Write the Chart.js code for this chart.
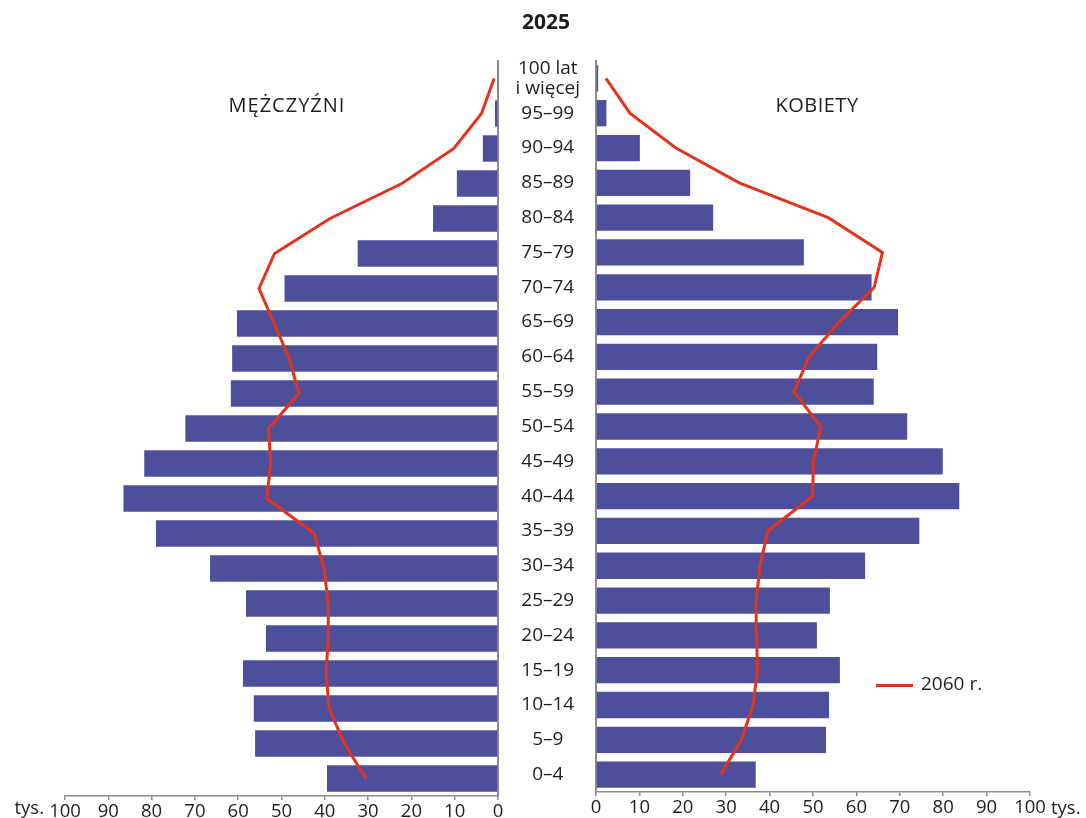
<!DOCTYPE html>
<html lang="pl">
<head>
<meta charset="utf-8">
<script src="https://cdn.jsdelivr.net/npm/chart.js@4.4.1/dist/chart.umd.min.js"></script>
<style>
html,body{margin:0;padding:0;background:#fff;}
#wrap{position:relative;width:1086px;height:818px;overflow:hidden;font-family:"Open Sans",sans-serif;color:#1e1e1e;}
.box{position:absolute;top:0;height:818px;}
#leftBox{left:0;width:510px;}
#rightBox{left:498px;width:588px;}
.txt{position:absolute;white-space:nowrap;}
#title{left:546px;top:11px;font-size:21px;line-height:21px;font-weight:700;transform:translateX(-50%);}
#men{left:287px;top:95px;font-size:20px;line-height:20px;letter-spacing:1px;transform:translateX(-50%);}
#women{left:817px;top:95px;font-size:20px;line-height:20px;letter-spacing:0.5px;transform:translateX(-50%);}
#tysL{left:44px;top:798px;font-size:18.5px;line-height:18px;transform:translateX(-100%);}
#tysR{left:1051px;top:798px;font-size:18.5px;line-height:18px;}
#legLine{left:876px;top:684px;width:37px;height:3px;background:#e2341d;}
#legText{left:921px;top:674px;font-size:19px;line-height:19px;}
</style>
</head>
<body>
<div id="wrap">
  <div class="box" id="leftBox"><canvas id="cLeft"></canvas></div>
  <div class="box" id="rightBox"><canvas id="cRight"></canvas></div>
  <div class="txt" id="title">2025</div>
  <div class="txt" id="men">MĘŻCZYŹNI</div>
  <div class="txt" id="women">KOBIETY</div>
  <div class="txt" id="tysL">tys.</div>
  <div class="txt" id="tysR">tys.</div>
  <div class="txt" id="legLine"></div>
  <div class="txt" id="legText">2060 r.</div>
</div>
<script>
// Age groups (ascending; drawn bottom to top)
const ageGroups = ['0–4','5–9','10–14','15–19','20–24','25–29','30–34','35–39','40–44','45–49',
  '50–54','55–59','60–64','65–69','70–74','75–79','80–84','85–89','90–94','95–99',['100 lat','i więcej']];
// Thousands of persons, 2025
const men2025   = [39.5,56.1,56.4,58.9,53.6,58.2,66.5,79.0,86.5,81.7,72.2,61.7,61.4,60.3,49.3,32.4,15.0,9.5,3.5,0.7,0.1];
const women2025 = [36.8,53.0,53.7,56.2,50.9,53.9,62.0,74.5,83.7,79.9,71.7,64.0,64.8,69.6,63.5,47.9,27.0,21.7,10.1,2.4,0.5];
// Projection 2060
const men2060   = [30.5,35.5,39.0,39.7,39.2,39.2,40.2,42.4,53.4,52.5,53.0,46.0,48.2,51.7,55.2,51.6,38.8,22.2,10.2,3.8,0.9];
const women2060 = [28.7,33.5,36.2,37.2,37.0,36.9,37.8,39.6,49.9,50.1,51.8,45.6,49.1,56.0,64.1,66.0,53.5,33.0,18.4,7.8,2.3];
const axisMin = 0, axisMax = 100, axisStep = 10;

const barColor = '#4d4f9a';
const lineColor = '#e2341d';
const axisColor = '#8c8c8c';
const textColor = '#1e1e1e';
const tickFont = {family:'"Open Sans", sans-serif', size:18.5};

function datasets(bars, line){
  return [
    {type:'line', data:line, borderColor:lineColor, borderWidth:3, pointRadius:0, tension:0, fill:false, order:0, clip:false},
    {type:'bar', data:bars, backgroundColor:barColor, barPercentage:0.755, categoryPercentage:1, order:1}
  ];
}

function xScale(reverse){
  return {
    type:'linear', min:axisMin, max:axisMax, reverse:reverse,
    ticks:{stepSize:axisStep, color:textColor, font:tickFont, padding:1, maxRotation:0, autoSkip:false},
    grid:{drawOnChartArea:false, drawTicks:true, tickLength:4, color:axisColor, lineWidth:1.5},
    border:{display:true, color:axisColor, width:1.5},
    afterFit:(s)=>{ s.height = 22; }
  };
}

const common = {
  indexAxis:'y', responsive:true, maintainAspectRatio:false, animation:false,
  plugins:{legend:{display:false}, tooltip:{enabled:false}}
};

new Chart(document.getElementById('cLeft'), {
  data:{labels:ageGroups, datasets:datasets(men2025, men2060)},
  options:Object.assign({}, common, {
    layout:{padding:{left:65, top:61, right:0, bottom:0}},
    scales:{
      x:xScale(true),
      y:{type:'category', reverse:true, position:'right',
         ticks:{display:false}, grid:{display:false, drawTicks:false},
         border:{display:true, color:axisColor, width:2},
         afterFit:(s)=>{ s.width = 12; }}
    }
  })
});

new Chart(document.getElementById('cRight'), {
  data:{labels:ageGroups, datasets:datasets(women2025, women2060)},
  options:Object.assign({}, common, {
    layout:{padding:{left:0, top:61, right:56, bottom:0}},
    scales:{
      x:xScale(false),
      y:{type:'category', reverse:true, position:'left',
         ticks:{display:true, autoSkip:false, color:textColor, crossAlign:'center', padding:16,
                font:{family:'"Open Sans", sans-serif', size:19, lineHeight:1.05}},
         grid:{display:false, drawTicks:false},
         border:{display:true, color:axisColor, width:2},
         afterFit:(s)=>{ s.width = 98; }}
    }
  })
});
</script>
</body>
</html>
